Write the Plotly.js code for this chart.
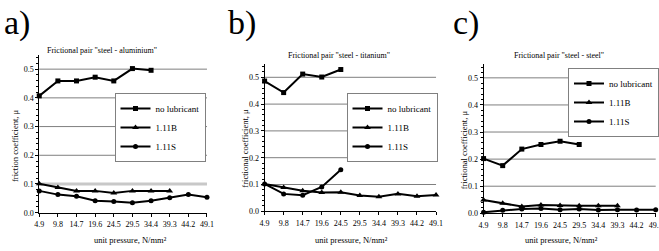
<!DOCTYPE html>
<html>
<head>
<meta charset="utf-8">
<script src="https://cdn.plot.ly/plotly-3.0.1.min.js"></script>
<style>html,body{margin:0;padding:0;background:#fff;}#chart{width:659px;height:251px;}</style>
</head>
<body>
<div id="chart"></div>
<script>
// ---- data ----
const pressure = ["4.9","9.8","14.7","19.6","24.5","29.5","34.4","39.3","44.2","49.1"];
const seriesNames = ["no lubricant","1.11B","1.11S"];

// a) steel - aluminium
const alNoLub = [0.407,0.459,0.459,0.472,0.459,0.502,0.496];
const alB     = [0.101,0.088,0.076,0.076,0.069,0.076,0.076,0.076];
const alS     = [0.076,0.063,0.057,0.042,0.039,0.035,0.042,0.052,0.063,0.054];

// b) steel - titanium
const tiNoLub = [0.486,0.443,0.512,0.501,0.529];
const tiB     = [0.102,0.089,0.077,0.070,0.071,0.059,0.054,0.065,0.056,0.061];
const tiS     = [0.102,0.065,0.060,0.091,0.155];

// c) steel - steel
const stNoLub = [0.202,0.176,0.237,0.254,0.266,0.254];
const stB     = [0.049,0.037,0.025,0.031,0.029,0.028,0.028,0.028];
const stS     = [0.004,0.011,0.016,0.018,0.013,0.016,0.012,0.013,0.012,0.013];

const panelTitles = ['Frictional pair "steel - aluminium"','Frictional pair "steel - titanium"','Frictional pair "steel - steel"'];
const yTitles = ['friction coefficient, μ','frictional coefficient, μ','frictional coefficient, μ'];
const xTitle = 'unit pressure, N/mm²';
const letters = ['a)','b)','c)'];
const gridValues = [0.1,0.2,0.3,0.4,0.5];

// ---- styling ----
const FONT = 'Liberation Serif, Times New Roman, serif';
const W = 659, H = 251;
const symbols = ['square','triangle-up','circle'];

const panels = [
  {data:[alNoLub,alB,alS], x0:39.3, x1:207.3, yb:212.7, yt:54.8, leg:{c:160,t:93}, title:{x:102,y:50}, letter:{x:17,y:23}, ytl:{x:15,y:145}, xtl:{x:131,y:240}, lightFirst:true},
  {data:[tiNoLub,tiB,tiS], x0:265, x1:436.7, yb:211.3, yt:63.9, leg:{c:392,t:93}, title:{x:340,y:55}, letter:{x:242,y:23}, ytl:{x:245,y:148}, xtl:{x:352,y:240}},
  {data:[stNoLub,stB,stS], x0:484.3, x1:656.7, yb:213.3, yt:64.3, leg:{c:614,t:68}, title:{x:560,y:55}, letter:{x:467,y:23}, ytl:{x:465,y:150}, xtl:{x:562,y:240}}
];

const traces = [];
const layout = {
  width: W, height: H,
  margin: {l:0,r:0,t:0,b:0},
  paper_bgcolor: '#fff', plot_bgcolor: '#fff',
  font: {family: FONT, color: '#000', size: 8},
  showlegend: true,
  annotations: [], shapes: []
};

panels.forEach((p, i) => {
  const n = i === 0 ? '' : String(i + 1);
  const xa = 'x' + n, ya = 'y' + n;
  p.data.forEach((vals, k) => {
    traces.push({
      type: 'scatter', mode: 'lines+markers',
      name: seriesNames[k],
      x: pressure.slice(0, vals.length), y: vals,
      xaxis: xa, yaxis: ya,
      legend: 'legend' + n,
      line: {color: '#000', width: 2},
      marker: {symbol: symbols[k], size: k === 1 ? 6 : 5, color: '#000'},
      cliponaxis: false
    });
  });
  layout['xaxis' + n] = {
    domain: [p.x0 / W, p.x1 / W], anchor: ya,
    type: 'category', categoryorder: 'array', categoryarray: pressure,
    range: [0, 9], showgrid: false, zeroline: false,
    showline: true, linecolor: '#000', linewidth: 1,
    ticks: 'outside', ticklen: 3, tickcolor: '#000',
    tickfont: {family: FONT, size: 8, color: '#000'}, ticklabelstandoff: 1,
    fixedrange: true
  };
  layout['yaxis' + n] = {
    domain: [1 - p.yb / H, 1 - p.yt / H], anchor: xa,
    range: [0, 0.55], dtick: 0.1, tick0: 0, tickformat: '.1f',
    showgrid: false, zeroline: false,
    showline: true, linecolor: '#000', linewidth: 1,
    ticks: 'outside', ticklen: 3, tickcolor: '#000',
    minor: {dtick: 0.02, ticks: 'outside', ticklen: 2, tickcolor: '#000', showgrid: false},
    tickfont: {family: FONT, size: 8, color: '#000'},
    fixedrange: true
  };
  // horizontal gridlines
  gridValues.forEach((g, gi) => {
    const light = p.lightFirst && gi === 0;
    layout.shapes.push({type: 'line', xref: xa + ' domain', yref: ya, x0: 0, x1: 1, y0: g, y1: g,
      line: {color: light ? '#c8c8c8' : '#7f7f7f', width: light ? 3 : 1}, layer: 'below'});
  });
  layout['legend' + n] = {
    x: p.leg.c / W, xanchor: 'center', y: 1 - p.leg.t / H, yanchor: 'top',
    xref: 'paper', yref: 'paper',
    bgcolor: '#fff', bordercolor: '#808080', borderwidth: 1,
    font: {family: FONT, size: 9, color: '#000'},
    tracegroupgap: 0, itemwidth: 30, traceorder: 'normal'
  };
  layout.annotations.push({
    text: panelTitles[i], xref: 'paper', yref: 'paper',
    x: p.title.x / W, y: 1 - p.title.y / H, xanchor: 'center', yanchor: 'middle',
    showarrow: false, font: {family: FONT, size: 8, color: '#000'}
  });
  layout.annotations.push({
    text: yTitles[i], xref: 'paper', yref: 'paper', textangle: -90,
    x: p.ytl.x / W, y: 1 - p.ytl.y / H, xanchor: 'center', yanchor: 'middle',
    showarrow: false, font: {family: FONT, size: 8.5, color: '#000'}
  });
  layout.annotations.push({
    text: xTitle, xref: 'paper', yref: 'paper',
    x: p.xtl.x / W, y: 1 - p.xtl.y / H, xanchor: 'center', yanchor: 'middle',
    showarrow: false, font: {family: FONT, size: 8.5, color: '#000'}
  });
  layout.annotations.push({
    text: letters[i], xref: 'paper', yref: 'paper',
    x: p.letter.x / W, y: 1 - p.letter.y / H, xanchor: 'center', yanchor: 'middle',
    showarrow: false, font: {family: FONT, size: 34, color: '#000'}
  });
});

Plotly.newPlot('chart', traces, layout, {staticPlot: true, displayModeBar: false});
</script>
</body>
</html>
